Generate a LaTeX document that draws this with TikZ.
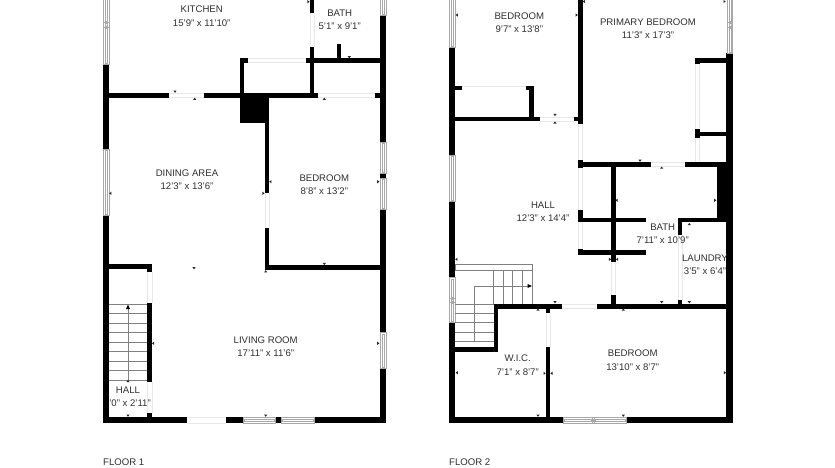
\documentclass[tikz,border=0pt]{standalone}
\usepackage{fontspec}
\setmainfont{Liberation Sans}
\definecolor{labelgray}{HTML}{303030}
\definecolor{wingray}{HTML}{A8A8A8}
\definecolor{doorgray}{HTML}{E8E8E8}
\definecolor{stairgray}{HTML}{808080}
\tikzset{
  roomlabel/.style={font=\fontsize{9.6}{11}\selectfont,text=labelgray,inner sep=0pt,align=center},
  floorlabel/.style={font=\fontsize{9.6}{11}\selectfont,text=labelgray,inner sep=0pt,anchor=west},
  winline/.style={draw=wingray,line width=0.6pt,fill=white},
  wininner/.style={draw=wingray,line width=0.35pt},
  doorline/.style={draw=doorgray,line width=0.6pt},
  stairline/.style={draw=stairgray,line width=0.5pt}
}
\newcommand{\wl}[4]{\fill[black] (#1,#2) rectangle (#3,#4);}
% vertical window: outer frame, two inner lines
\newcommand{\winv}[4]{\path[winline] (#1,#2) rectangle (#3,#4);
  \draw[wininner] ({#1+(#3-#1)/3},{#2+1.2}) -- ({#1+(#3-#1)/3},{#4-1.2}) -- ({#3-(#3-#1)/3},{#4-1.2}) -- ({#3-(#3-#1)/3},{#2+1.2}) -- cycle;}
% horizontal window
\newcommand{\winh}[4]{\path[winline] (#1,#2) rectangle (#3,#4);
  \draw[wininner] ({#1+1.2},{#2+(#4-#2)/3}) -- ({#3-1.2},{#2+(#4-#2)/3}) -- ({#3-1.2},{#4-(#4-#2)/3}) -- ({#1+1.2},{#4-(#4-#2)/3}) -- cycle;}
\newcommand{\gap}[4]{\draw[doorline] (#1,#2) -- (#3,#4);}
% dimension ticks: triangle pointing in the named direction
\newcommand{\mk}[3]{\fill[black!85,shift={(#1,#2)},rotate=#3] (-1.6,-1.1) -- (1.6,-1.1) -- (0,1.1) -- cycle;}
\newcommand{\mkd}[2]{\mk{#1}{#2}{0}}
\newcommand{\mku}[2]{\mk{#1}{#2}{180}}
\newcommand{\mkr}[2]{\mk{#1}{#2}{90}}
\newcommand{\mkl}[2]{\mk{#1}{#2}{-90}}
\begin{document}
\begin{tikzpicture}[x=1pt,y=-1pt]
\useasboundingbox (0,0) rectangle (835,467);
\fill[white] (0,0) rectangle (835,467);
% ===== FLOOR 1 =====
\wl{102.7}{64}{109}{149}
\wl{102.7}{215}{109}{423.3}
\winv{103}{-2}{109}{22}
\winv{103}{22}{109}{27}
\winv{103}{27}{109}{64}
\winv{103}{149}{109}{215}
\wl{379.7}{15.7}{386.3}{142}
\wl{379.7}{173}{386.3}{178}
\wl{379.7}{209.3}{386.3}{332.7}
\wl{379.7}{368}{386.3}{423.3}
\winv{380}{-2}{386}{15.7}
\winv{380}{142}{386}{173}
\winv{380}{178}{386}{209.3}
\winv{380}{332.7}{386}{368}
\wl{102.7}{416.7}{187}{423.3}
\wl{226}{416.7}{243.3}{423.3}
\wl{275.7}{416.7}{281}{423.3}
\wl{314}{416.7}{386.3}{423.3}
\gap{187}{417}{226}{417}
\gap{187}{423}{226}{423}
\winh{243.3}{417}{275.7}{423}
\winh{281}{417}{314}{423}
\wl{109}{93.3}{169.3}{97.7}
\wl{204.3}{93.3}{317.7}{97.7}
\wl{375}{93.3}{380}{97.7}
\gap{169.3}{93.5}{204.3}{93.5}
\gap{169.3}{97.5}{204.3}{97.5}
\gap{317.7}{93.5}{375}{93.5}
\gap{317.7}{97.5}{375}{97.5}
\wl{239.7}{95}{265}{122.7}
\wl{264.7}{95}{269.3}{193.3}
\wl{264.7}{228.3}{269.3}{270}
\gap{265}{193.3}{265}{228.3}
\gap{269}{193.3}{269}{228.3}
\wl{264.7}{265}{380}{270}
\wl{239.7}{58.3}{244.3}{95}
\wl{239.7}{58.3}{248}{62.7}
\gap{248}{58.5}{305.7}{58.5}
\gap{248}{62.5}{305.7}{62.5}
\wl{309.7}{46.7}{314.3}{95}
\wl{309.7}{0}{314.3}{13.3}
\gap{310}{13.3}{310}{46.7}
\gap{314}{13.3}{314}{46.7}
\wl{305.7}{58.3}{380}{62.7}
\wl{336.7}{44.3}{340.7}{58.3}
\wl{109}{264.3}{152}{269.3}
\wl{147.3}{264.3}{152}{271.7}
\wl{147.3}{302.7}{152}{381.7}
\wl{147.3}{413.3}{152}{417}
\gap{147.5}{271.7}{147.5}{302.7}
\gap{152}{271.7}{152}{302.7}
\gap{147.5}{381.7}{147.5}{413.3}
\gap{152}{381.7}{152}{413.3}
% stairs floor 1
\foreach \ty in {304,313.5,323,332.5,342,351.5,361,370.5,380}{
  \draw[stairline] (109,\ty) -- (147.3,\ty);}
\draw[stairline] (128,381) -- (128,307);
\fill[black] (128,304.5) -- (130,309) -- (126,309) -- cycle;
% marks floor 1
\mkd{175}{91.7}\mku{194.7}{98.8}\mkd{349.3}{57.3}\mku{324.3}{98.8}
\mkl{270.3}{181.7}\mkr{263.5}{193.3}\mkr{378.3}{181.7}\mkl{110.3}{193.3}
\mkr{308.5}{1.7}\mkd{194}{268.3}\mku{265.7}{271.3}\mkd{324.3}{264}
\mkl{153}{343.3}\mkr{378.3}{343.3}\mkd{265.7}{415.7}\mkd{128}{415.7}
\mku{128}{381}
% labels floor 1
\node[roomlabel] (kitchen) at (201.7,9.3) {KITCHEN};
\node[roomlabel] (kitchendim) at (201.7,22.7) {15'9" x 11'10"};
\node[roomlabel] (bathone) at (339.7,12.7) {BATH};
\node[roomlabel] (bathonedim) at (339.7,26) {5'1" x 9'1"};
\node[roomlabel] (dining) at (187,172.7) {DINING AREA};
\node[roomlabel] (diningdim) at (187,185.7) {12'3" x 13'6"};
\node[roomlabel] (bedone) at (324.3,178) {BEDROOM};
\node[roomlabel] (bedonedim) at (324.3,191) {8'8" x 13'2"};
\node[roomlabel] (living) at (265.7,339.7) {LIVING ROOM};
\node[roomlabel] (livingdim) at (265.7,352.7) {17'11" x 11'6"};
\node[roomlabel] (hallone) at (128,390) {HALL};
\node[roomlabel] (halldim) at (130,403) {'0" x 2'11"};
\node[floorlabel] (floorone) at (103,462.3) {FLOOR 1};
% ===== FLOOR 2 =====
\wl{448.7}{47.7}{455.3}{155.3}
\wl{448.7}{201.3}{455.3}{277.7}
\wl{448.7}{322.7}{455.3}{423.3}
\winv{449}{-2}{455}{47.7}
\winv{449}{155.3}{455}{201.3}
\winv{449}{277.7}{455}{298}
\winv{449}{298}{455}{302}
\winv{449}{302}{455}{322.7}
\wl{726.3}{53.3}{732.7}{423.3}
\winv{727}{-2}{732.7}{22}
\winv{727}{22}{732.7}{27}
\winv{727}{27}{732.7}{53.3}
\wl{448.7}{416.7}{563.3}{423.3}
\wl{626}{416.7}{732.7}{423.3}
\winh{563.3}{417}{592}{423}
\winh{592}{417}{594}{423}
\winh{594}{417}{626}{423}
\wl{578.3}{0}{582.7}{124.3}
\wl{578.3}{160}{582.7}{168.3}
\wl{578.3}{210}{582.7}{222.3}
\wl{578.3}{249}{582.7}{255}
\gap{578.5}{124.3}{578.5}{160}
\gap{582.5}{124.3}{582.5}{160}
\gap{578.5}{168.3}{578.5}{210}
\gap{582.5}{168.3}{582.5}{210}
\gap{578.5}{222.3}{578.5}{249}
\gap{582.5}{222.3}{582.5}{249}
\wl{578}{217.7}{646}{222.3}
\wl{578}{250}{646}{255}
\wl{578}{161.7}{650.7}{166.7}
\wl{685}{161.7}{727}{166.7}
\gap{650.7}{162}{685}{162}
\gap{650.7}{166.5}{685}{166.5}
\wl{611}{166.7}{615.7}{261.7}
\wl{611}{295}{615.7}{306}
\gap{611}{261.7}{611}{295}
\gap{615.5}{261.7}{615.5}{295}
\wl{716.7}{163}{726.3}{222.3}
\wl{678}{218.3}{726.3}{222.3}
\wl{678}{218.3}{682.3}{235}
\wl{678}{300}{682.3}{306}
\gap{678.2}{235}{678.2}{300}
\gap{682.2}{235}{682.2}{300}
\wl{494}{304}{562.3}{308.7}
\wl{597}{304}{727}{308.7}
\gap{562.3}{304.2}{597}{304.2}
\gap{562.3}{308.5}{597}{308.5}
\wl{494}{304}{498.3}{351.7}
\wl{455}{347.3}{498.3}{351.7}
\wl{545.7}{308}{550.3}{313.3}
\wl{545.7}{347.3}{550.3}{417}
\gap{546}{313.3}{546}{347.3}
\gap{550}{313.3}{550}{347.3}
\wl{455}{116.7}{540}{121}
\wl{574.3}{116.7}{579}{121}
\gap{540}{117}{574.3}{117}
\gap{540}{121}{574.3}{121}
\wl{529.3}{85.7}{534}{116.7}
\wl{526}{85.7}{534}{90.3}
\wl{455}{85.7}{462}{90.3}
\gap{462}{85.9}{526}{85.9}
\wl{695}{58.3}{726.3}{63.3}
\wl{695}{58.3}{699.7}{64}
\wl{695}{131.7}{726.3}{135.7}
\wl{695}{129.3}{699.7}{137.7}
\gap{695.2}{64}{695.2}{129.3}
\gap{699.5}{64}{699.5}{129.3}
\gap{695.2}{137.7}{695.2}{161.7}
\gap{699.5}{137.7}{699.5}{161.7}
% stairs floor 2
\draw[stairline] (455,264.3) rectangle (532.7,270);
\foreach \tx in {493.3,503,512.7,522.3,532}{
  \draw[stairline] (\tx,270) -- (\tx,304);}
\foreach \ty in {304,313.3,322.7,332.3,341.7}{
  \draw[stairline] (455,\ty) -- (494,\ty);}
\draw[stairline] (474.3,341.7) -- (474.3,286) -- (528,286);
\fill[black] (532,286) -- (527.5,284) -- (527.5,288) -- cycle;
% marks floor 2
\mkl{456.7}{15}\mkr{576.7}{15}\mkl{583.8}{1.5}\mkr{724.6}{1.5}
\mkd{555}{115}\mku{555}{122.5}\mkd{640}{160.7}\mku{661.7}{167.6}
\mkl{616.5}{200.3}\mkr{715.3}{200.3}\mku{689.3}{224}
\mkl{456.3}{259.3}\mkr{610}{259.3}\mkl{617}{259.3}
\mkd{555}{302.3}\mku{538}{309.6}
\mku{623.3}{309.6}\mkd{661.7}{302.3}\mkd{689.3}{302.3}
\mkl{456.7}{372.7}\mkr{544.6}{373.3}\mkl{551.4}{373.3}\mkr{725}{372.7}
\mkd{538}{415.7}\mkd{623.3}{415.7}
% labels floor 2
\node[roomlabel] (bedtwo) at (519.3,16) {BEDROOM};
\node[roomlabel] (bedtwodim) at (519.3,29) {9'7" x 13'8"};
\node[roomlabel] (primary) at (648,22) {PRIMARY BEDROOM};
\node[roomlabel] (primarydim) at (648,35) {11'3" x 17'3"};
\node[roomlabel] (halltwo) at (543,204.7) {HALL};
\node[roomlabel] (halltwodim) at (543,218) {12'3" x 14'4"};
\node[roomlabel] (bathtwo) at (662.7,227) {BATH};
\node[roomlabel] (bathtwodim) at (662.7,240.3) {7'11" x 10'9"};
\node[roomlabel] (laundry) at (705,258.3) {LAUNDRY};
\node[roomlabel] (laundrydim) at (705,271) {3'5" x 6'4"};
\node[roomlabel] (wic) at (517.7,358) {W.I.C.};
\node[roomlabel] (wicdim) at (517.7,371.7) {7'1" x 8'7"};
\node[roomlabel] (bedthree) at (632.7,353.3) {BEDROOM};
\node[roomlabel] (bedthreedim) at (632.7,366.7) {13'10" x 8'7"};
\node[floorlabel] (floortwo) at (449,462.3) {FLOOR 2};
\end{tikzpicture}
\end{document}
